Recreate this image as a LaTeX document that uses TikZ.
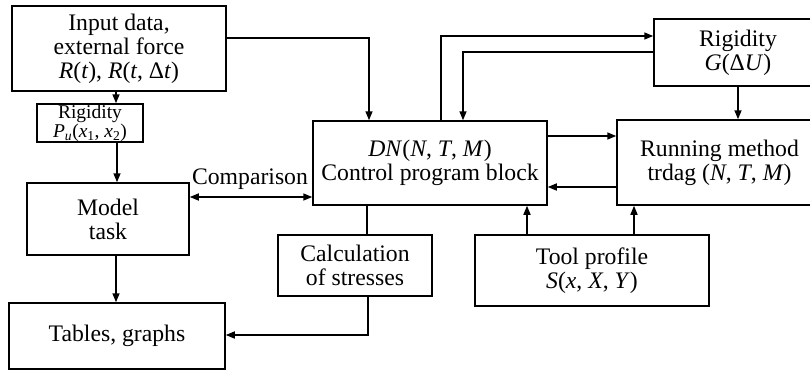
\documentclass[tikz,border=0pt]{standalone}
\usepackage{fontspec}
\setmainfont{Liberation Serif}
\usetikzlibrary{arrows.meta}
\newcommand{\iv}[1]{\textit{#1}}
\begin{document}
\begin{tikzpicture}[x=1pt,y=-1pt,
 box/.style={draw, line width=1.5pt, inner sep=0pt, align=center, font=\fontsize{23.7}{24}\selectfont},
 smalltext/.style={inner sep=0pt, align=center, font=\fontsize{19.5}{15.5}\selectfont},
 lbl/.style={inner sep=0pt, font=\fontsize{23.7}{24}\selectfont},
 conn/.style={line width=1.5pt},
 arr/.style={conn, -{Triangle[length=9pt,width=7pt]}},
 darr/.style={conn, {Triangle[length=9pt,width=7pt]}-{Triangle[length=9pt,width=7pt]}}]
\useasboundingbox (0,0) rectangle (810,372);
\clip (0,0) rectangle (810,372);
\node[box, minimum width=214pt, minimum height=85pt] (inp) at (119,48.5)
  {Input data,\\external force\\\iv{R}(\iv{t}), \iv{R}(\iv{t}, Δ\iv{t})};
\node[box, minimum width=106pt, minimum height=38pt] (rp) at (90,123) {};
\node[smalltext] (rptext) at (90,123.5)
  {Rigidity\\\iv{P}\textsubscript{\iv{u}}(\iv{x}\textsubscript{1}, \iv{x}\textsubscript{2})};
\node[box, minimum width=162pt, minimum height=72pt] (model) at (108,219) {Model\\task};
\node[box, minimum width=216pt, minimum height=66pt] (tab) at (117,336) {Tables, graphs};
\node[box, minimum width=234pt, minimum height=84pt] (ctrl) at (430,163)
  {\iv{DN}(\iv{N}, \iv{T}, \iv{M})\\Control program block};
\node[box, minimum width=168pt, minimum height=67pt] (rg) at (738,52.5)
  {Rigidity\\\iv{G}(Δ\iv{U})};
\node[box, minimum width=205pt, minimum height=85pt] (run) at (719.5,162.5)
  {Running method\\trdag (\iv{N}, \iv{T}, \iv{M})};
\node[box, minimum width=234pt, minimum height=71pt] (tool) at (592,270.5)
  {Tool profile\\\iv{S}(\iv{x}, \iv{X}, \iv{Y})};
\node[box, minimum width=154pt, minimum height=61pt] (calc) at (355,265.5)
  {Calculation\\of stresses};
\node[lbl] (cmp) at (250,179) {Comparison};
\draw[arr] (116,0 |- inp.south) -- (116,0 |- rp.north);
\draw[arr] (117,0 |- rp.south) -- (117,0 |- model.north);
\draw[arr] (116,0 |- model.south) -- (116,0 |- tab.north);
\draw[darr] (model.east |- 0,197) -- (ctrl.west |- 0,197);
\draw[arr] (inp.east |- 0,38) -| (369,0 |- ctrl.north);
\draw[arr] (441,0 |- ctrl.north) |- (rg.west |- 0,36);
\draw[arr] (rg.west |- 0,52) -| (463,0 |- ctrl.north);
\draw[arr] (738,0 |- rg.south) -- (738,0 |- run.north);
\draw[arr] (ctrl.east |- 0,136) -- (run.west |- 0,136);
\draw[arr] (run.west |- 0,187) -- (ctrl.east |- 0,187);
\draw[arr] (527,0 |- tool.north) -- (527,0 |- ctrl.south);
\draw[arr] (634,0 |- tool.north) -- (634,0 |- run.south);
\draw[conn] (367,0 |- ctrl.south) -- (367,0 |- calc.north);
\draw[arr] (368,0 |- calc.south) |- (tab.east |- 0,335);
\end{tikzpicture}
\end{document}
